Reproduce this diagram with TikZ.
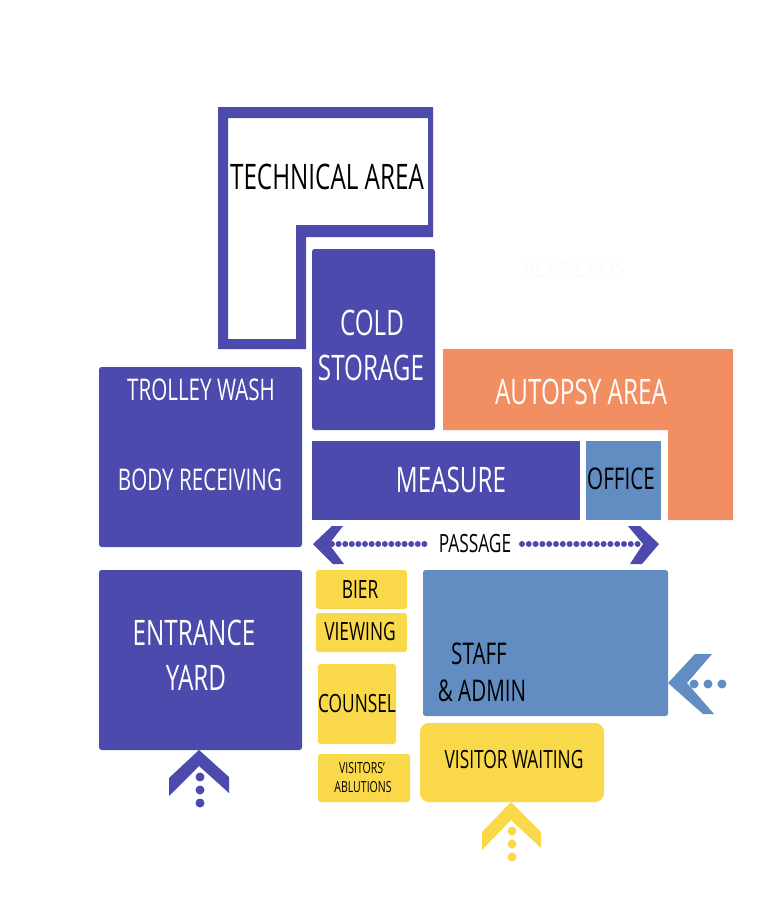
\documentclass[tikz,border=0pt]{standalone}
\usepackage{fontspec}
\newfontfamily\condfont[FakeStretch=0.69]{Open Sans}
\definecolor{roompurple}{HTML}{4C4AAC}
\definecolor{roomblue}{HTML}{628DC3}
\definecolor{roomorange}{HTML}{F28F62}
\definecolor{roomyellow}{HTML}{F9D84A}
\tikzset{
  room/.style={fill=#1, rounded corners=1.5pt},
  biglabel/.style={text=white, inner sep=0pt, font=\condfont\fontsize{20}{24}\selectfont},
  darklabel/.style={text=black, inner sep=0pt, font=\condfont\fontsize{17}{20}\selectfont},
  smalllabel/.style={text=black, inner sep=0pt, font=\condfont\fontsize{14.3}{17}\selectfont},
  tinylabel/.style={text=black, inner sep=0pt, font=\condfont\fontsize{8.7}{11}\selectfont}
}
\begin{document}
\begin{tikzpicture}[x=0.02cm, y=-0.02cm]
  \useasboundingbox (0,0) rectangle (775,899);

  % Area tecnica (L con borde)
  \fill[roompurple, even odd rule] (218,107) -- (433,107) -- (433,237) -- (306,237) -- (306,349) -- (218,349) -- cycle
    (228,118) -- (428,118) -- (428,225) -- (296,225) -- (296,339) -- (228,339) -- cycle;

  % Salas
  \fill[room=roompurple] (312,249) rectangle (435,430);
  \fill[room=roompurple] (99,367) rectangle (302,547);
  \fill[room=roompurple] (99,570) rectangle (302,750);
  \fill[roompurple] (312,441) rectangle (580,520);
  \fill[roomblue] (586,441) rectangle (661,520);
  \fill[roomorange] (443,349) -- (733,349) -- (733,520) -- (668,520) -- (668,430) -- (443,430) -- cycle;
  \fill[room=roomblue] (423,570) rectangle (668,716);
  \fill[room=roomyellow] (316,570) rectangle (407,609);
  \fill[room=roomyellow] (316,613) rectangle (407,652);
  \fill[room=roomyellow] (318,664) rectangle (396,744);
  \fill[room=roomyellow] (318,754) rectangle (410,802);
  \fill[roomyellow, rounded corners=5pt] (420,723) rectangle (604,802);

  % Flechas del pasillo
  \fill[roompurple] (313,544) -- (332,526) -- (343,526) -- (329,544) -- (344,564) -- (333,564) -- cycle;
  \fill[roompurple] (659,544) -- (640,526) -- (628,526) -- (643,544) -- (630,564) -- (642,564) -- cycle;
  \foreach \dotx in {0,...,14}
    \fill[roompurple] (332+\dotx*6.6,544) circle (3);
  \foreach \dotx in {0,...,17}
    \fill[roompurple] (522+\dotx*6.8,544) circle (3);

  % Flechas de entrada
  \fill[roompurple] (199,750) -- (229,777) -- (229,793) -- (199,766) -- (169,796) -- (169,778) -- cycle;
  \fill[roomyellow] (511,802) -- (541,832) -- (541,848) -- (511,820) -- (482,850) -- (482,832) -- cycle;
  \fill[roomblue] (668,683) -- (695,654) -- (712,654) -- (687,683) -- (714,714) -- (703,714) -- cycle;
  \foreach \doty in {777,790,803}
    \fill[roompurple] (200,\doty) circle (4.5);
  \foreach \doty in {831,844,857}
    \fill[roomyellow] (512,\doty) circle (4.5);
  \foreach \dotx in {694,708,722}
    \fill[roomblue] (\dotx,684) circle (4.5);

  % Etiquetas
  \node[biglabel, text=black] (technical) at (327,177) {TECHNICAL AREA};
  \node[biglabel] (cold) at (372,323) {COLD};
  \node[biglabel] (storage) at (371,368) {STORAGE};
  \node[darklabel, text=white] (trolley) at (201,390) {TROLLEY WASH};
  \node[darklabel, text=white] (body) at (200,480) {BODY RECEIVING};
  \node[biglabel] (autopsy) at (581,392) {AUTOPSY AREA};
  \node[biglabel] (measure) at (451,480) {MEASURE};
  \node[darklabel] (office) at (621,479) {OFFICE};
  \node[smalllabel] (passage) at (475,544) {PASSAGE};
  \node[biglabel] (entrance) at (194,633) {ENTRANCE};
  \node[biglabel] (yard) at (196,678) {YARD};
  \node[smalllabel] (bier) at (360,590) {BIER};
  \node[smalllabel] (viewing) at (360,632) {VIEWING};
  \node[smalllabel] (counsel) at (357,704) {COUNSEL};
  \node[tinylabel] (visitors) at (362,768) {VISITORS’};
  \node[tinylabel] (ablutions) at (363,787) {ABLUTIONS};
  \node[darklabel] (staff) at (479,654) {STAFF};
  \node[darklabel] (admin) at (482,691) {\&~ADMIN};
  \node[smalllabel] (waiting) at (514,760) {VISITOR WAITING};
  \node[biglabel, text=black!2, font=\condfont\fontsize{13.5}{16}\selectfont] (hearse) at (574,269) {HEARSE BAYS};
\end{tikzpicture}
\end{document}
